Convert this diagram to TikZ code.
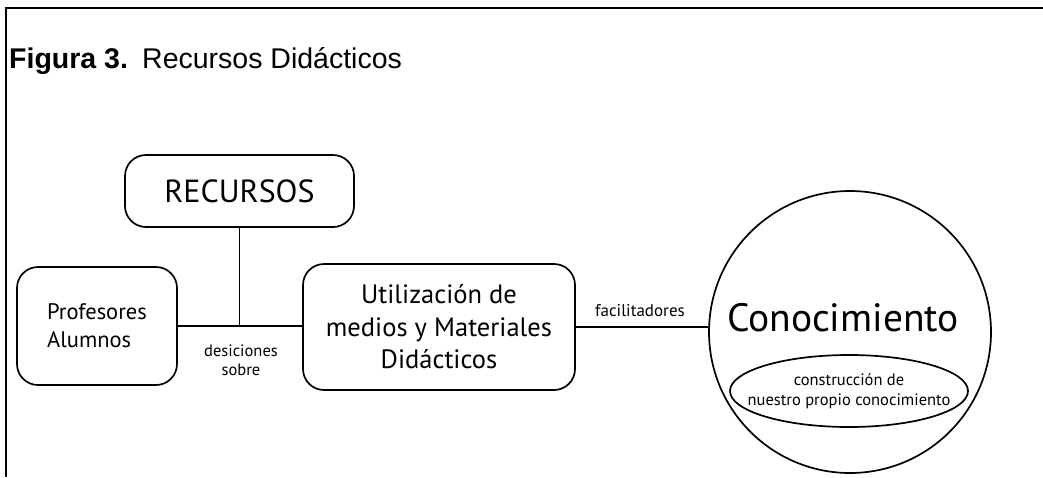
\documentclass[tikz,border=0pt]{standalone}
\usepackage{fontspec}
\setmainfont{PT Sans}
\newfontfamily\titlefont{Liberation Sans}
\usetikzlibrary{shapes.geometric}
\begin{document}
\begin{tikzpicture}[x=1pt,y=-1pt,
  box/.style={draw, line width=1.7pt, rounded corners=21pt, inner sep=0pt, align=center},
  conn/.style={line width=1.7pt},
  lbl/.style={inner sep=0pt, align=center}]
\useasboundingbox (0,0) rectangle (1043,477);
\fill[white] (0,0) rectangle (1043,477);
% frame
\draw[line width=1.6pt] (6,477) -- (6,8) -- (1043,8);
% title
\node[lbl, anchor=base west] (title) at (9,68) {\titlefont\fontsize{28.5}{32}\selectfont\textbf{Figura 3.}\hspace{0.5em}Recursos Didácticos};
% boxes
\node[box, minimum width=229pt, minimum height=72pt, font=\fontsize{32}{36}\selectfont] (rec) at (239.5,191) {RECURSOS};
\node[box, minimum width=160pt, minimum height=118pt, align=left, font=\fontsize{22.5}{28}\selectfont] (prof) at (97,326) {Profesores\\Alumnos};
\node[box, minimum width=272pt, minimum height=126pt, font=\fontsize{26.5}{32.5}\selectfont] (util) at (439,327) {Utilización de\\medios y Materiales\\Didácticos};
\node[draw, circle, line width=1.7pt, minimum size=282pt, inner sep=0pt] (conoc) at (850,332) {};
\node[lbl, font=\fontsize{39.5}{44}\selectfont] (ctext) at (843,318) {Conocimiento};
\node[draw, ellipse, line width=1.7pt, minimum width=238pt, minimum height=72pt, inner sep=0pt] (constr) at (849,391) {};
\node[lbl, font=\fontsize{16.5}{20}\selectfont] (ctxt) at (constr.center) {construcción de\\nuestro propio conocimiento};
% connectors
\coordinate (junc) at (rec.south |- prof.east);
\draw[conn] (prof.east) -- (util.west |- prof.east);
\draw[conn] (rec.south) -- (junc);
\draw[conn] (util.east) -- (util.east -| conoc.west);
% labels
\node[lbl, font=\fontsize{16.5}{19.5}\selectfont] (dec) at (241,360) {desiciones\\sobre};
\node[lbl, font=\fontsize{17}{20}\selectfont] (fac) at (640,311) {facilitadores};
\end{tikzpicture}
\end{document}
